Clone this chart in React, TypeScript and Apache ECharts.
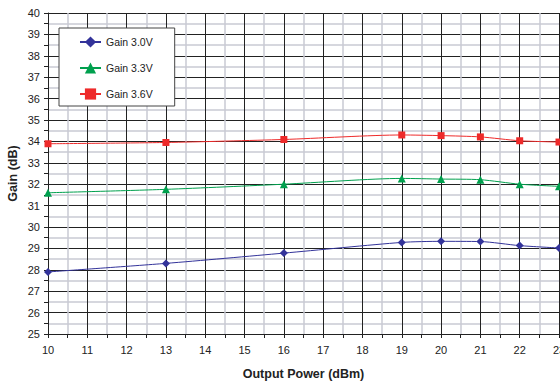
import React, { useEffect, useRef } from "react";
import * as echarts from "echarts";

const power = [10, 13, 16, 19, 20, 21, 22, 23];
const gain30 = [27.9, 28.3, 28.78, 29.28, 29.33, 29.32, 29.13, 29.02];
const gain33 = [31.6, 31.76, 32.0, 32.27, 32.24, 32.21, 32.0, 31.9];
const gain36 = [33.89, 33.95, 34.09, 34.3, 34.27, 34.21, 34.03, 33.97];
const seriesNames = ["Gain 3.0V", "Gain 3.3V", "Gain 3.6V"];

const FONT = "Liberation Sans, Arial, sans-serif";

export default function App() {
  const ref = useRef<HTMLDivElement>(null);
  useEffect(() => {
    if (!ref.current) return;
    const chart = echarts.init(ref.current, undefined, { renderer: "svg" });
    const pair = (ys: number[]) => power.map((x, i) => [x, ys[i]]);
    const mk = (name: string, ys: number[], color: string, symbol: string, size: number) => ({
      name,
      type: "line",
      data: pair(ys),
      smooth: 0.25,
      symbol,
      symbolSize: size,
      itemStyle: { color },
      lineStyle: { color, width: 1 },
    });
    chart.setOption({
      animation: false,
      backgroundColor: "#ffffff",
      textStyle: { fontFamily: FONT },
      grid: { left: 48, right: 1, top: 13, bottom: 47, outerBoundsMode: "none", containLabel: false, show: false },
      legend: {
        orient: "vertical",
        left: 59,
        top: 28,
        padding: [7, 22, 5, 20],
        itemGap: 12,
        itemWidth: 21,
        itemHeight: 14,
        backgroundColor: "#ffffff",
        borderColor: "#444",
        borderWidth: 1,
        textStyle: { fontFamily: FONT, fontSize: 10.5, color: "#222", lineHeight: 14 },
        data: seriesNames,
      },
      xAxis: {
        type: "value",
        min: 10,
        max: 23,
        interval: 1,
        name: "Output Power (dBm)",
        nameLocation: "middle",
        nameGap: 33,
        nameMoveOverlap: false,
        nameTextStyle: { fontFamily: FONT, fontSize: 12.5, fontWeight: "bold", color: "#222" },
        axisLine: { show: true, onZero: false, lineStyle: { color: "#222", width: 1 } },
        axisTick: { show: true, length: 4, lineStyle: { color: "#222" } },
        minorTick: { show: true, splitNumber: 2, length: 4, lineStyle: { color: "#222" } },
        axisLabel: { fontFamily: FONT, fontSize: 11, color: "#222", margin: 10 },
        splitLine: { show: true, lineStyle: { color: "#222", width: 1 } },
        minorSplitLine: { show: true, lineStyle: { color: "#c9cad3", width: 1.5 } },
      },
      yAxis: {
        type: "value",
        min: 25,
        max: 40,
        interval: 1,
        name: "Gain (dB)",
        nameLocation: "middle",
        nameGap: 29,
        nameMoveOverlap: false,
        nameRotate: 90,
        nameTextStyle: { fontFamily: FONT, fontSize: 12.5, fontWeight: "bold", color: "#222" },
        axisLine: { show: true, lineStyle: { color: "#222", width: 1 } },
        axisTick: { show: true, length: 4, lineStyle: { color: "#222" } },
        minorTick: { show: true, splitNumber: 2, length: 4, lineStyle: { color: "#222" } },
        axisLabel: { fontFamily: FONT, fontSize: 11, color: "#222", margin: 8 },
        splitLine: { show: true, lineStyle: { color: "#222", width: 1 } },
        minorSplitLine: { show: true, lineStyle: { color: "#c9cad3", width: 1.5 } },
      },
      series: [
        mk(seriesNames[0], gain30, "#33339a", "diamond", 8),
        mk(seriesNames[1], gain33, "#00a04e", "triangle", 8),
        mk(seriesNames[2], gain36, "#ee2a2a", "rect", 7),
      ],
    });
    return () => chart.dispose();
  }, []);
  return <div ref={ref} style={{ width: 560, height: 381, position: "absolute", left: 0, top: 0 }} />;
}
